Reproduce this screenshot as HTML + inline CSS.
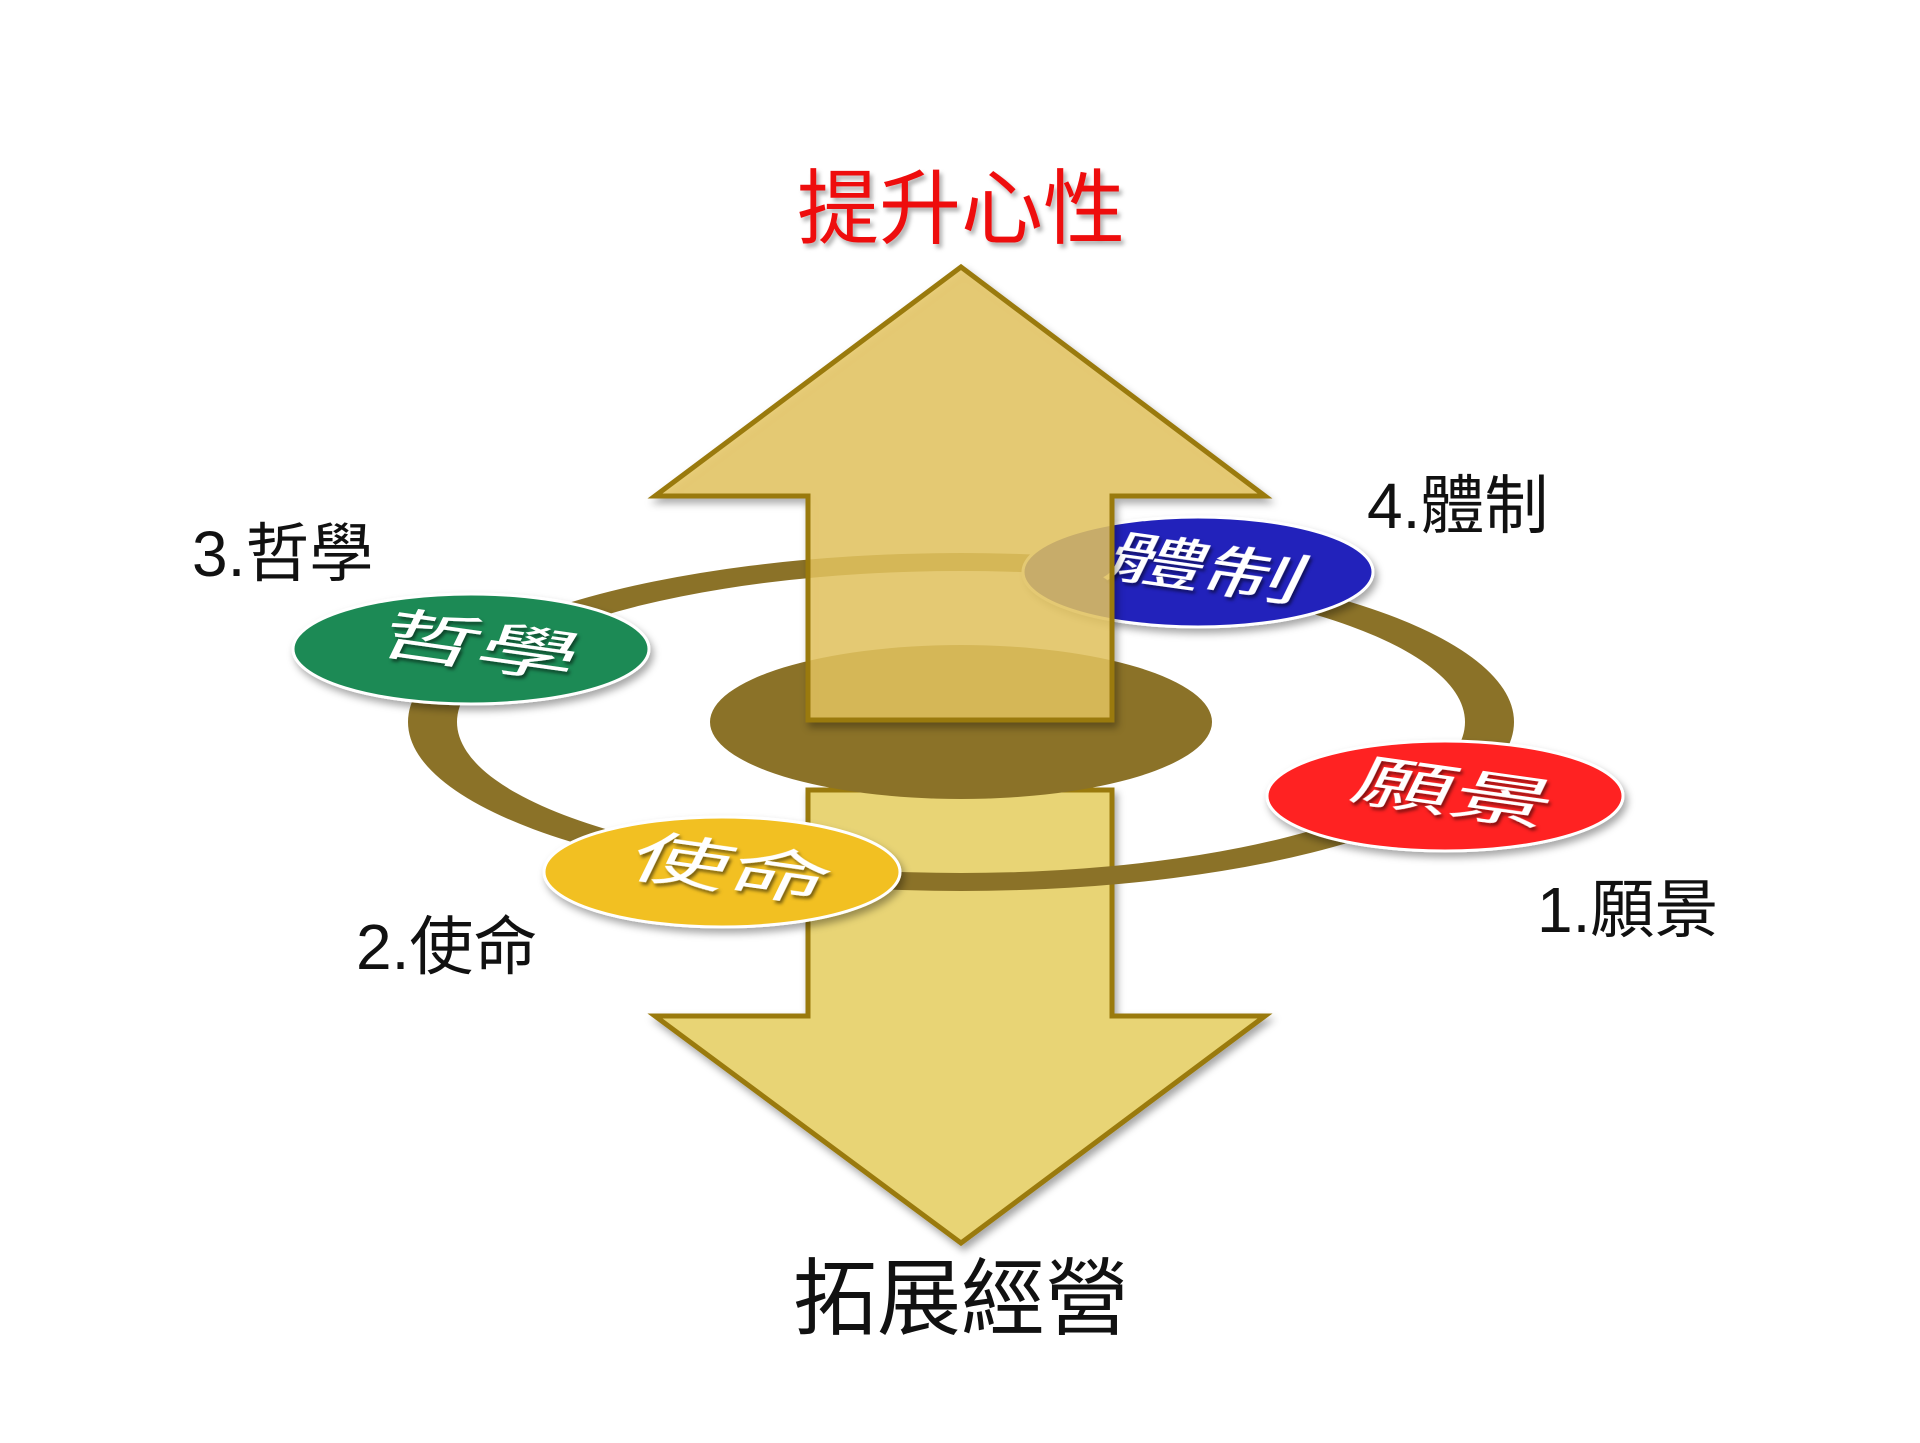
<!DOCTYPE html>
<html><head><meta charset="utf-8"><style>
html,body{margin:0;padding:0;background:#fff;width:1920px;height:1443px;overflow:hidden}
svg{display:block}
text{font-family:"Liberation Sans","Noto Sans CJK TC",sans-serif}
</style></head><body>
<svg width="1920" height="1443" viewBox="0 0 1920 1443" xmlns="http://www.w3.org/2000/svg">
<defs>
<filter id="sh" x="-20%" y="-20%" width="140%" height="160%"><feDropShadow dx="3" dy="5" stdDeviation="4" flood-color="#000" flood-opacity="0.35"/></filter>
<filter id="ts" x="-10%" y="-10%" width="130%" height="140%"><feDropShadow dx="3" dy="4" stdDeviation="2" flood-color="#000" flood-opacity="0.3"/></filter>
<filter id="ws" x="-10%" y="-20%" width="130%" height="150%"><feDropShadow dx="2" dy="3" stdDeviation="1.5" flood-color="#000" flood-opacity="0.5"/></filter>
</defs>
<polygon points="808,790 1112,790 1112,1016 1265,1016 961,1243 655,1016 808,1016" fill="#e8d474" stroke="#9a7a10" stroke-width="5" filter="url(#sh)"/>
<path fill="#8b7228" fill-rule="evenodd" d="M408,722 a553,169 0 1,0 1106,0 a553,169 0 1,0 -1106,0 Z M457,722 a504,151 0 1,0 1008,0 a504,151 0 1,0 -1008,0 Z"/>
<ellipse cx="961" cy="722" rx="251" ry="77" fill="#8b7228"/>
<g filter="url(#sh)" stroke="#fff" stroke-width="3">
<ellipse cx="471" cy="649" rx="178" ry="55" fill="#1e8a55"/>
<ellipse cx="1445" cy="796" rx="178" ry="55" fill="#ff2020"/>
<ellipse cx="722" cy="872" rx="178" ry="55" fill="#f2c020"/>
<ellipse cx="1198" cy="572" rx="175" ry="55" fill="#2222bb"/>
</g>
<g fill="#fff" font-size="52" text-anchor="middle" filter="url(#ws)">
<text transform="translate(471,665) rotate(8) skewX(-18) scale(1.9,1.1)">哲學</text>
<text transform="translate(1445,812) rotate(8) skewX(-18) scale(1.9,1.1)">願景</text>
<text transform="translate(722,888) rotate(8) skewX(-18) scale(1.9,1.1)">使命</text>
<text transform="translate(1198,588) rotate(8) skewX(-18) scale(1.9,1.1)">體制</text>
</g>
<polygon points="961,267 1265,496 1112,496 1112,720 808,720 808,496 655,496" fill="#e6c660" fill-opacity="0.82" stroke="#9a7a10" stroke-width="5" filter="url(#sh)"/>
<text x="961" y="237" font-size="82" fill="#ee1111" text-anchor="middle" filter="url(#ts)">提升心性</text>
<text x="961" y="1328" font-size="84" fill="#111" text-anchor="middle">拓展經營</text>
<g font-size="64" fill="#111">
<text x="192" y="576">3.哲學</text>
<text x="1367" y="528">4.體制</text>
<text x="1537" y="932">1.願景</text>
<text x="356" y="969">2.使命</text>
</g>
</svg>
</body></html>
